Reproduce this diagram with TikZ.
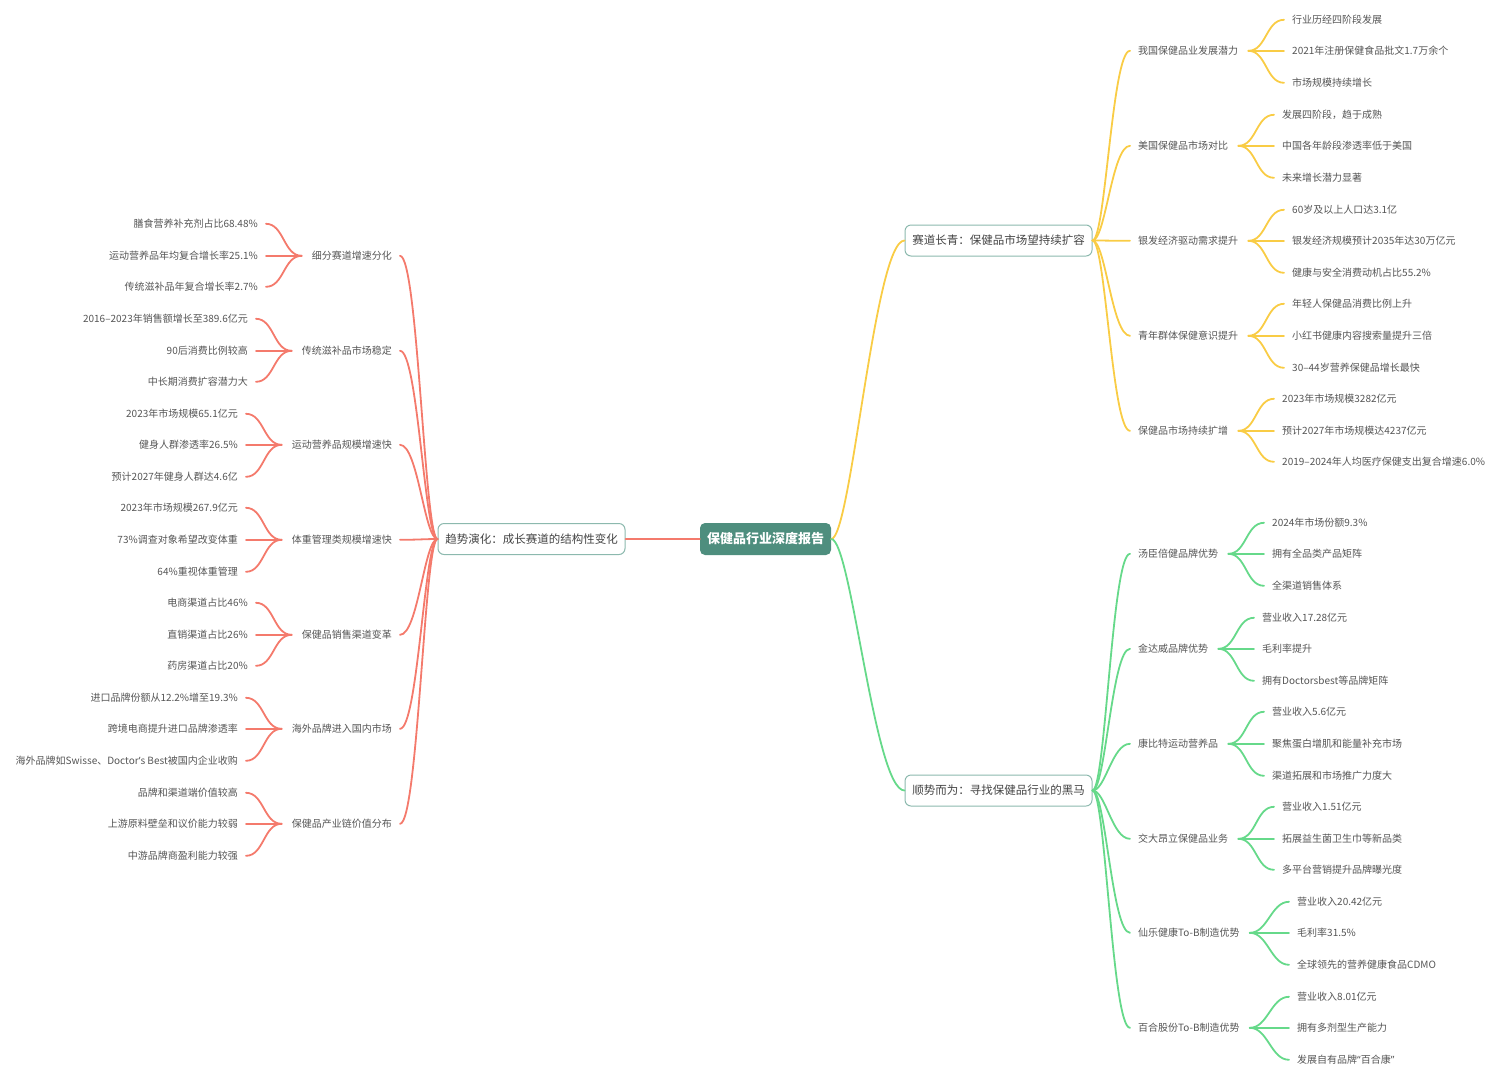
\documentclass[tikz,border=0pt]{standalone}
\usepackage{fontspec}
\setmainfont{Noto Sans CJK SC}
\newfontfamily\latinf{Noto Sans}
\definecolor{rootc}{HTML}{4E8E7E}
\definecolor{boxc}{HTML}{8CB9AE}
\definecolor{redc}{HTML}{F47A6C}
\definecolor{yelc}{HTML}{F9CC45}
\definecolor{grnc}{HTML}{66D98A}
\definecolor{textc}{HTML}{555555}
\definecolor{darkt}{HTML}{444444}
\tikzset{
  txt/.style={inner sep=0pt, text=textc, font=\fontsize{10}{12}\selectfont, yshift=-0.8pt},
  rtxt/.style={txt, anchor=west},
  ltxt/.style={txt, anchor=east},
  rootnode/.style={fill=rootc, rounded corners=5pt, minimum width=131pt, minimum height=32pt, inner sep=0pt, text=white, font=\fontsize{13}{15}\selectfont\bfseries},
  l1node/.style={draw=boxc, line width=1pt, fill=white, rounded corners=6pt, minimum width=187pt, minimum height=31pt, inner sep=0pt, text=darkt, font=\fontsize{11.5}{13}\selectfont},
  con/.style={line width=1.8pt, line cap=round},
  rcon/.style={con, draw=redc},
  ycon/.style={con, draw=yelc},
  gcon/.style={con, draw=grnc},
}
\begin{document}
\begin{tikzpicture}[x=1pt, y=-1pt]
\useasboundingbox (0,0) rectangle (1502,1080);
% root and level 1
\node[rootnode] (root) at (765.5,539) {保健品行业深度报告};
\node[l1node] (left) at (531.5,539) {趋势演化：成长赛道的结构性变化};
\node[l1node] (top) at (998.5,240.5) {赛道长青：保健品市场望持续扩容};
\node[l1node] (bot) at (998.5,790.5) {顺势而为：寻找保健品行业的黑马};

% right top (yellow)
\node[rtxt] (t1) at (1138,50) {我国保健品业发展潜力};
\node[rtxt] (t1a) at (1292,19) {行业历经四阶段发展};
\node[rtxt] (t1b) at (1292,50) {2021年注册保健食品批文1.7万余个};
\node[rtxt] (t1c) at (1292,82) {市场规模持续增长};
\node[rtxt] (t2) at (1138,145) {美国保健品市场对比};
\node[rtxt] (t2a) at (1282,114) {发展四阶段，趋于成熟};
\node[rtxt] (t2b) at (1282,145) {中国各年龄段渗透率低于美国};
\node[rtxt] (t2c) at (1282,177) {未来增长潜力显著};
\node[rtxt] (t3) at (1138,240) {银发经济驱动需求提升};
\node[rtxt] (t3a) at (1292,209) {60岁及以上人口达3.1亿};
\node[rtxt] (t3b) at (1292,240) {银发经济规模预计2035年达30万亿元};
\node[rtxt] (t3c) at (1292,272) {健康与安全消费动机占比55.2\%};
\node[rtxt] (t4) at (1138,335) {青年群体保健意识提升};
\node[rtxt] (t4a) at (1292,303) {年轻人保健品消费比例上升};
\node[rtxt] (t4b) at (1292,335) {小红书健康内容搜索量提升三倍};
\node[rtxt] (t4c) at (1292,367) {30–44岁营养保健品增长最快};
\node[rtxt] (t5) at (1138,430) {保健品市场持续扩增};
\node[rtxt] (t5a) at (1282,398) {2023年市场规模3282亿元};
\node[rtxt] (t5b) at (1282,430) {预计2027年市场规模达4237亿元};
\node[rtxt] (t5c) at (1282,461) {2019–2024年人均医疗保健支出复合增速6.0\%};

% right bottom (green)
\node[rtxt] (b1) at (1138,553) {汤臣倍健品牌优势};
\node[rtxt] (b1a) at (1272,522) {2024年市场份额9.3\%};
\node[rtxt] (b1b) at (1272,553) {拥有全品类产品矩阵};
\node[rtxt] (b1c) at (1272,585) {全渠道销售体系};
\node[rtxt] (b2) at (1138,648) {金达威品牌优势};
\node[rtxt] (b2a) at (1262,617) {营业收入17.28亿元};
\node[rtxt] (b2b) at (1262,648) {毛利率提升};
\node[rtxt] (b2c) at (1262,680) {拥有Doctorsbest等品牌矩阵};
\node[rtxt] (b3) at (1138,743) {康比特运动营养品};
\node[rtxt] (b3a) at (1272,711) {营业收入5.6亿元};
\node[rtxt] (b3b) at (1272,743) {聚焦蛋白增肌和能量补充市场};
\node[rtxt] (b3c) at (1272,775) {渠道拓展和市场推广力度大};
\node[rtxt] (b4) at (1138,838) {交大昂立保健品业务};
\node[rtxt] (b4a) at (1282,806) {营业收入1.51亿元};
\node[rtxt] (b4b) at (1282,838) {拓展益生菌卫生巾等新品类};
\node[rtxt] (b4c) at (1282,869) {多平台营销提升品牌曝光度};
\node[rtxt] (b5) at (1138,932) {仙乐健康To-B制造优势};
\node[rtxt] (b5a) at (1297,901) {营业收入20.42亿元};
\node[rtxt] (b5b) at (1297,932) {毛利率31.5\%};
\node[rtxt] (b5c) at (1297,964) {全球领先的营养健康食品CDMO};
\node[rtxt] (b6) at (1138,1027) {百合股份To-B制造优势};
\node[rtxt] (b6a) at (1297,996) {营业收入8.01亿元};
\node[rtxt] (b6b) at (1297,1027) {拥有多剂型生产能力};
\node[rtxt] (b6c) at (1297,1059) {发展自有品牌{\latinf “}百合康{\latinf ”}};

% left (red)
\node[ltxt] (l1) at (392,255) {细分赛道增速分化};
\node[ltxt] (l1a) at (258,223) {膳食营养补充剂占比68.48\%};
\node[ltxt] (l1b) at (258,255) {运动营养品年均复合增长率25.1\%};
\node[ltxt] (l1c) at (258,286) {传统滋补品年复合增长率2.7\%};
\node[ltxt] (l2) at (392,350) {传统滋补品市场稳定};
\node[ltxt] (l2a) at (248,318) {2016–2023年销售额增长至389.6亿元};
\node[ltxt] (l2b) at (248,350) {90后消费比例较高};
\node[ltxt] (l2c) at (248,381) {中长期消费扩容潜力大};
\node[ltxt] (l3) at (392,444) {运动营养品规模增速快};
\node[ltxt] (l3a) at (238,413) {2023年市场规模65.1亿元};
\node[ltxt] (l3b) at (238,444) {健身人群渗透率26.5\%};
\node[ltxt] (l3c) at (238,476) {预计2027年健身人群达4.6亿};
\node[ltxt] (l4) at (392,539) {体重管理类规模增速快};
\node[ltxt] (l4a) at (238,507) {2023年市场规模267.9亿元};
\node[ltxt] (l4b) at (238,539) {73\%调查对象希望改变体重};
\node[ltxt] (l4c) at (238,571) {64\%重视体重管理};
\node[ltxt] (l5) at (392,634) {保健品销售渠道变革};
\node[ltxt] (l5a) at (248,602) {电商渠道占比46\%};
\node[ltxt] (l5b) at (248,634) {直销渠道占比26\%};
\node[ltxt] (l5c) at (248,665) {药房渠道占比20\%};
\node[ltxt] (l6) at (392,728) {海外品牌进入国内市场};
\node[ltxt] (l6a) at (238,697) {进口品牌份额从12.2\%增至19.3\%};
\node[ltxt] (l6b) at (238,728) {跨境电商提升进口品牌渗透率};
\node[ltxt] (l6c) at (238,760) {海外品牌如Swisse、Doctor{\latinf ’}s Best被国内企业收购};
\node[ltxt] (l7) at (392,823) {保健品产业链价值分布};
\node[ltxt] (l7a) at (238,792) {品牌和渠道端价值较高};
\node[ltxt] (l7b) at (238,823) {上游原料壁垒和议价能力较弱};
\node[ltxt] (l7c) at (238,855) {中游品牌商盈利能力较强};

% root connectors
\draw[rcon] (left.east) -- (root.west);
\draw[ycon] (root.east) .. controls +(20,0) and +(-30,0) .. (top.west);
\draw[gcon] (root.east) .. controls +(20,0) and +(-30,0) .. (bot.west);

% level 1 -> level 2
\foreach \p in {t1,t2,t3,t4,t5}
  \draw[ycon] (top.east) .. controls +(13,0) and +(-18,0) .. ([xshift=-8pt]\p.west);
\foreach \p in {b1,b2,b3,b4,b5,b6}
  \draw[gcon] (bot.east) .. controls +(13,0) and +(-18,0) .. ([xshift=-8pt]\p.west);
\foreach \p in {l1,l2,l3,l4,l5,l6,l7}
  \draw[rcon] (left.west) .. controls +(-13,0) and +(18,0) .. ([xshift=8pt]\p.east);

% level 2 -> leaves
\foreach \p in {t1,t2,t3,t4,t5}
  \foreach \s in {a,b,c}
    \draw[ycon] ([xshift=10pt]\p.east) .. controls +(18,0) and +(-18,0) .. ([xshift=-8pt]\p\s.west);
\foreach \p in {b1,b2,b3,b4,b5,b6}
  \foreach \s in {a,b,c}
    \draw[gcon] ([xshift=10pt]\p.east) .. controls +(18,0) and +(-18,0) .. ([xshift=-8pt]\p\s.west);
\foreach \p in {l1,l2,l3,l4,l5,l6,l7}
  \foreach \s in {a,b,c}
    \draw[rcon] ([xshift=-10pt]\p.west) .. controls +(-18,0) and +(18,0) .. ([xshift=8pt]\p\s.east);
\end{tikzpicture}
\end{document}
